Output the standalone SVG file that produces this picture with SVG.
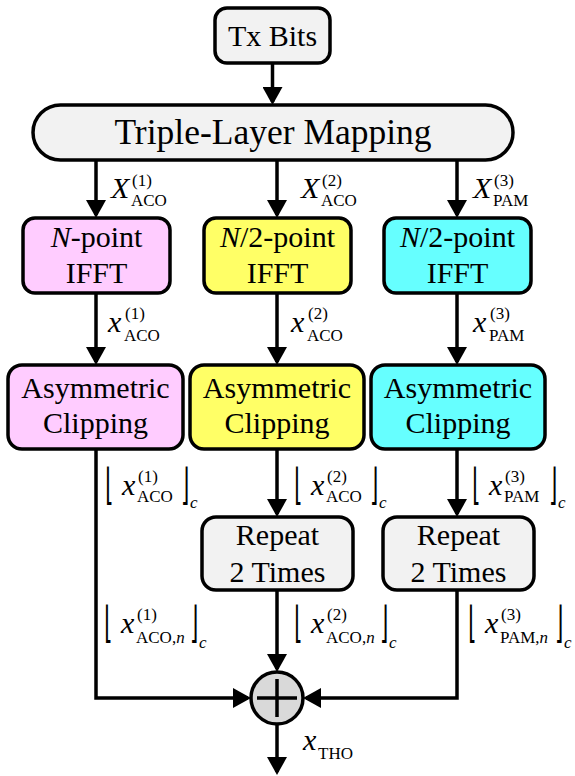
<svg xmlns="http://www.w3.org/2000/svg" width="575" height="776" viewBox="0 0 575 776">
<style>
.box{stroke:#000;stroke-width:3.5}
.gray{fill:#f2f2f2}
.pink{fill:#ffccff}
.yel{fill:#ffff66}
.cyan{fill:#66ffff}
.t{font-family:"Liberation Serif","Times New Roman",serif;font-size:30px;fill:#000;text-anchor:middle}
.big{font-size:35.5px}
.m{font-family:"Liberation Serif","Times New Roman",serif;font-size:30px;font-style:italic;fill:#000}
.s{font-family:"Liberation Serif","Times New Roman",serif;font-size:17px;fill:#000}
.c{font-family:"Liberation Serif","Times New Roman",serif;font-size:17px;font-style:italic;fill:#000}
.br{font-family:"DejaVu Sans",sans-serif;font-size:43px;fill:#000}
.ln{fill:none;stroke:#000;stroke-width:3.5;marker-end:url(#ah)}
</style>
<defs>
<marker id="ah" markerUnits="userSpaceOnUse" markerWidth="20" markerHeight="20" refX="15" refY="10" orient="auto">
<path d="M0,0 L18,10 L0,20 z" fill="#000"/>
</marker>
</defs>
<g id="connectors">
<line class="ln" x1="272.5" y1="63" x2="272.5" y2="102"/>
<line class="ln" x1="96" y1="160" x2="96" y2="215"/>
<line class="ln" x1="277" y1="160" x2="277" y2="215"/>
<line class="ln" x1="457" y1="160" x2="457" y2="215"/>
<line class="ln" x1="96" y1="293" x2="96" y2="362"/>
<line class="ln" x1="277" y1="293" x2="277" y2="362"/>
<line class="ln" x1="457" y1="293" x2="457" y2="362"/>
<line class="ln" x1="277" y1="449" x2="277" y2="514"/>
<line class="ln" x1="457" y1="449" x2="457" y2="514"/>
<line class="ln" x1="277" y1="590" x2="277" y2="669"/>
<path class="ln" d="M96,449 V698 H248"/>
<path class="ln" d="M457,590 V698 H306"/>
<line class="ln" x1="277" y1="724" x2="277" y2="772"/>
</g>
<g id="txbits"><rect class="box gray" x="215" y="8" width="115" height="55" rx="12"/><text class="t" x="272.5" y="46">Tx Bits</text></g>
<g id="mapping"><rect class="box gray" x="33" y="105" width="480" height="55" rx="27.5"/><text class="t big" x="273" y="144">Triple-Layer Mapping</text></g>
<g id="ifft1"><rect class="box pink" x="23" y="218" width="147" height="75" rx="12"/><text class="t" x="96.5" y="247"><tspan font-style="italic">N</tspan>-point</text><text class="t" x="96.5" y="283">IFFT</text></g>
<g id="ifft2"><rect class="box yel" x="204" y="218" width="147" height="75" rx="12"/><text class="t" x="277.5" y="247"><tspan font-style="italic">N</tspan>/2-point</text><text class="t" x="277.5" y="283">IFFT</text></g>
<g id="ifft3"><rect class="box cyan" x="384" y="218" width="147" height="75" rx="12"/><text class="t" x="457.5" y="247"><tspan font-style="italic">N</tspan>/2-point</text><text class="t" x="457.5" y="283">IFFT</text></g>
<g id="clip1"><rect class="box pink" x="8" y="365" width="175" height="84" rx="14"/><text class="t" x="95.5" y="398">Asymmetric</text><text class="t" x="95.5" y="433">Clipping</text></g>
<g id="clip2"><rect class="box yel" x="190" y="365" width="174" height="84" rx="14"/><text class="t" x="277" y="398">Asymmetric</text><text class="t" x="277" y="433">Clipping</text></g>
<g id="clip3"><rect class="box cyan" x="371" y="365" width="174" height="84" rx="14"/><text class="t" x="458" y="398">Asymmetric</text><text class="t" x="458" y="433">Clipping</text></g>
<g id="repeat2"><rect class="box gray" x="202" y="517" width="151" height="73" rx="14"/><text class="t" x="277.5" y="545">Repeat</text><text class="t" x="277.5" y="582">2 Times</text></g>
<g id="repeat3"><rect class="box gray" x="383" y="517" width="151" height="73" rx="14"/><text class="t" x="458.5" y="545">Repeat</text><text class="t" x="458.5" y="582">2 Times</text></g>
<g id="sum"><circle cx="277" cy="698" r="26" fill="#d9d9d9" stroke="#000" stroke-width="3.5"/><path d="M257,698 H297 M277,679 V717" stroke="#000" stroke-width="3.5"/></g>
<g id="labels">
<text class="m" x="111" y="198">X</text><text class="s" x="132" y="186">(1)</text><text class="s" x="131" y="206">ACO</text>
<text class="m" x="301" y="198">X</text><text class="s" x="322" y="186">(2)</text><text class="s" x="321" y="206">ACO</text>
<text class="m" x="473" y="198">X</text><text class="s" x="494" y="186">(3)</text><text class="s" x="493" y="206">PAM</text>
<text class="m" x="108" y="332">x</text><text class="s" x="125" y="319">(1)</text><text class="s" x="124" y="341">ACO</text>
<text class="m" x="291" y="332">x</text><text class="s" x="308" y="319">(2)</text><text class="s" x="307" y="341">ACO</text>
<text class="m" x="473" y="332">x</text><text class="s" x="490" y="319">(3)</text><text class="s" x="489" y="341">PAM</text>
<text class="br" transform="translate(105,499) scale(0.5,1)">⌊</text><text class="m" x="122" y="495">x</text><text class="s" x="138" y="482">(1)</text><text class="s" x="137" y="502">ACO</text><text class="br" transform="translate(181,499) scale(0.5,1)">⌋</text><text class="c" x="190" y="508">c</text>
<text class="br" transform="translate(294,499) scale(0.5,1)">⌊</text><text class="m" x="311" y="495">x</text><text class="s" x="327" y="482">(2)</text><text class="s" x="326" y="502">ACO</text><text class="br" transform="translate(370,499) scale(0.5,1)">⌋</text><text class="c" x="379" y="508">c</text>
<text class="br" transform="translate(472,499) scale(0.5,1)">⌊</text><text class="m" x="489" y="495">x</text><text class="s" x="505" y="482">(3)</text><text class="s" x="504" y="502">PAM</text><text class="br" transform="translate(549,499) scale(0.5,1)">⌋</text><text class="c" x="558" y="508">c</text>
<text class="br" transform="translate(104,637) scale(0.5,1)">⌊</text><text class="m" x="121" y="633">x</text><text class="s" x="137" y="620">(1)</text><text class="s" x="136" y="643">ACO,<tspan font-style="italic">n</tspan></text><text class="br" transform="translate(190,637) scale(0.5,1)">⌋</text><text class="c" x="199" y="648">c</text>
<text class="br" transform="translate(294,637) scale(0.5,1)">⌊</text><text class="m" x="311" y="633">x</text><text class="s" x="327" y="620">(2)</text><text class="s" x="326" y="643">ACO,<tspan font-style="italic">n</tspan></text><text class="br" transform="translate(380,637) scale(0.5,1)">⌋</text><text class="c" x="389" y="648">c</text>
<text class="br" transform="translate(468,637) scale(0.5,1)">⌊</text><text class="m" x="485" y="633">x</text><text class="s" x="501" y="620">(3)</text><text class="s" x="500" y="643">PAM,<tspan font-style="italic">n</tspan></text><text class="br" transform="translate(555,637) scale(0.5,1)">⌋</text><text class="c" x="564" y="648">c</text>
<text class="m" x="303" y="750">x</text><text class="s" x="318" y="759" font-size="18">THO</text>
</g>
</svg>
